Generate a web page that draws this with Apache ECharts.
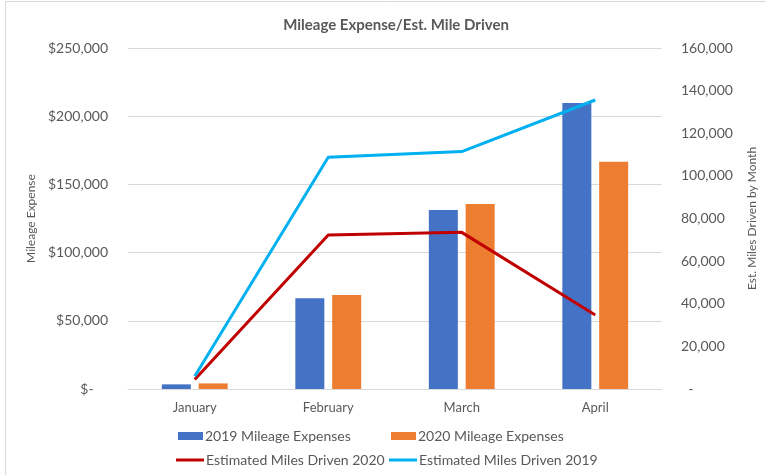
<!DOCTYPE html>
<html>
<head>
<meta charset="utf-8">
<script src="https://cdn.jsdelivr.net/npm/echarts@6/dist/echarts.min.js"></script>
<style>
	body{margin:0;background:#fff;}
	#chart{width:766px;height:475px;}
</style>
</head>
<body>
<div id="chart"></div>
<script>
	var months = ["January", "February", "March", "April"];
	var expense2019 = [3400, 66500, 131200, 209600];
	var expense2020 = [4100, 68900, 135600, 166600];
	var miles2020 = [4500, 72300, 73500, 34700];
	var miles2019 = [6000, 108700, 111400, 135600];

	var txt = "#595959";
	var font = "Lato";

	function legendItem(name, left, top, isLine){
		return {
			data: [name],
			left: left,
			top: top,
			icon: "rect",
			itemWidth: isLine ? 28 : 25,
			itemHeight: isLine ? 3 : 8,
			itemGap: 0,
			textStyle: {color: txt, fontSize: 14, fontFamily: font, padding: [0, 0, 0, -3]}
		};
	}

	var option = {
		animation: false,
		textStyle: {fontFamily: font},
		title: {
			text: "Mileage Expense/Est. Mile Driven",
			left: 391,
			textAlign: "center",
			top: 13,
			textStyle: {color: txt, fontSize: 15, fontWeight: "bold", fontFamily: font}
		},
		graphic: [{
			type: "rect",
			shape: {x: 5.5, y: 1.5, width: 820, height: 520},
			style: {fill: "none", stroke: "#d9d9d9", lineWidth: 1},
			silent: true
		}],
		legend: [
			legendItem("2019 Mileage Expenses", 173, 424, false),
			legendItem("2020 Mileage Expenses", 386, 424, false),
			legendItem("Estimated Miles Driven 2020", 171, 448, true),
			legendItem("Estimated Miles Driven 2019", 384, 448, true)
		],
		grid: {left: 128, right: 104, top: 48, bottom: 86},
		xAxis: {
			type: "category",
			data: months,
			axisLine: {lineStyle: {color: "#d9d9d9"}},
			axisTick: {show: false},
			axisLabel: {color: txt, fontSize: 13, margin: 12}
		},
		yAxis: [{
			type: "value",
			min: 0, max: 250000, interval: 50000,
			name: "Mileage Expense",
			nameLocation: "middle",
			nameGap: 90,
			nameTextStyle: {color: txt, fontSize: 12},
			axisLabel: {
				color: txt, fontSize: 14, margin: 20,
				formatter: function(v){ return v === 0 ? "$-    " : "$" + v.toLocaleString("en-US"); }
			},
			splitLine: {lineStyle: {color: "#d9d9d9"}}
		}, {
			type: "value",
			min: 0, max: 160000, interval: 20000,
			name: "Est. Miles Driven by Month",
			nameLocation: "middle",
			nameGap: 84,
			nameRotate: 90,
			nameTextStyle: {color: txt, fontSize: 12},
			axisLabel: {
				color: txt, fontSize: 14, margin: 19,
				formatter: function(v){ return v === 0 ? "  -" : v.toLocaleString("en-US"); }
			},
			splitLine: {show: false}
		}],
		series: [{
			name: "2019 Mileage Expenses",
			type: "bar",
			data: expense2019,
			barWidth: 29,
			barGap: "27%",
			itemStyle: {color: "#4472C4"}
		}, {
			name: "2020 Mileage Expenses",
			type: "bar",
			data: expense2020,
			barWidth: 29,
			itemStyle: {color: "#ED7D31"}
		}, {
			name: "Estimated Miles Driven 2020",
			type: "line",
			yAxisIndex: 1,
			data: miles2020,
			showSymbol: false,
			lineStyle: {color: "#C00000", width: 3},
			itemStyle: {color: "#C00000"}
		}, {
			name: "Estimated Miles Driven 2019",
			type: "line",
			yAxisIndex: 1,
			data: miles2019,
			showSymbol: false,
			lineStyle: {color: "#00B0F0", width: 3},
			itemStyle: {color: "#00B0F0"}
		}]
	};

	var myChart = echarts.init(document.getElementById("chart"));
	myChart.setOption(option);
</script>
</body>
</html>
